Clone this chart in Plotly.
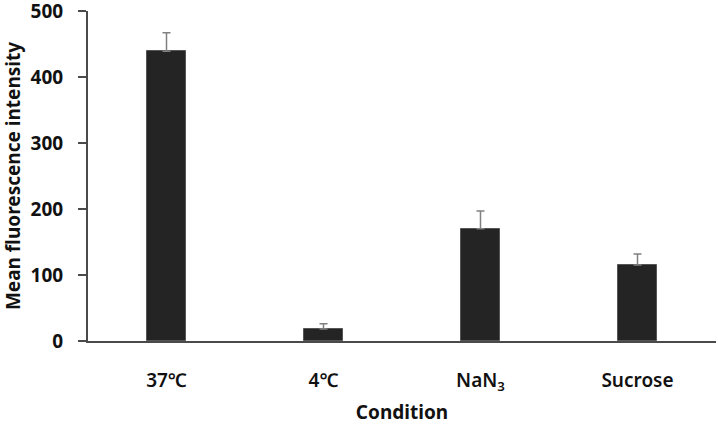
import plotly.graph_objects as go

categories = ["37℃", "4℃", "NaN<sub>3</sub>", "Sucrose"]
values = [439, 18, 170, 115]
errors = [28, 8, 27, 17]
y_ticks = [0, 100, 200, 300, 400, 500]

font_fam = "Noto Sans, DejaVu Sans, sans-serif"

fig = go.Figure(go.Bar(
    x=list(range(len(categories))),
    y=values,
    width=0.245,
    marker=dict(color="#242424", line=dict(color="#555555", width=1)),
    error_y=dict(type="data", array=errors, symmetric=False, arrayminus=[0]*4,
                 visible=True, color="#808080", thickness=1.5, width=4),
))

fig.update_layout(
    width=718, height=425,
    margin=dict(l=88, r=2, t=11, b=84),
    plot_bgcolor="white", paper_bgcolor="white",
    showlegend=False,
    font=dict(family=font_fam, color="#111111"),
    bargap=0,
)
fig.update_xaxes(
    range=[-0.5, 3.5], automargin=False,
    tickmode="array", tickvals=list(range(len(categories))), ticktext=categories,
    showline=True, linecolor="#4a4a4a", linewidth=2,
    ticks="", showgrid=False, zeroline=False,
    tickfont=dict(size=19, family=font_fam, weight=600),
    ticklabelstandoff=21,
    ticklabeloverflow="allow",
    title=dict(text="<b>Condition</b>", font=dict(size=19), standoff=17),
)
fig.update_yaxes(
    range=[0, 500], automargin=False,
    tickmode="array", tickvals=y_ticks,
    showline=True, linecolor="#4a4a4a", linewidth=2,
    ticks="outside", ticklen=8, tickcolor="#4a4a4a", tickwidth=2,
    showgrid=False, zeroline=False,
    tickfont=dict(size=19, family=font_fam, weight="bold"),
    ticklabelstandoff=11,
    ticklabeloverflow="allow",
    title=dict(text="<b>Mean fluorescence intensity</b>", font=dict(size=19), standoff=6),
)

fig.write_html("out.html", config={"displayModeBar": False},
               post_script="document.body.style.margin='0';")
